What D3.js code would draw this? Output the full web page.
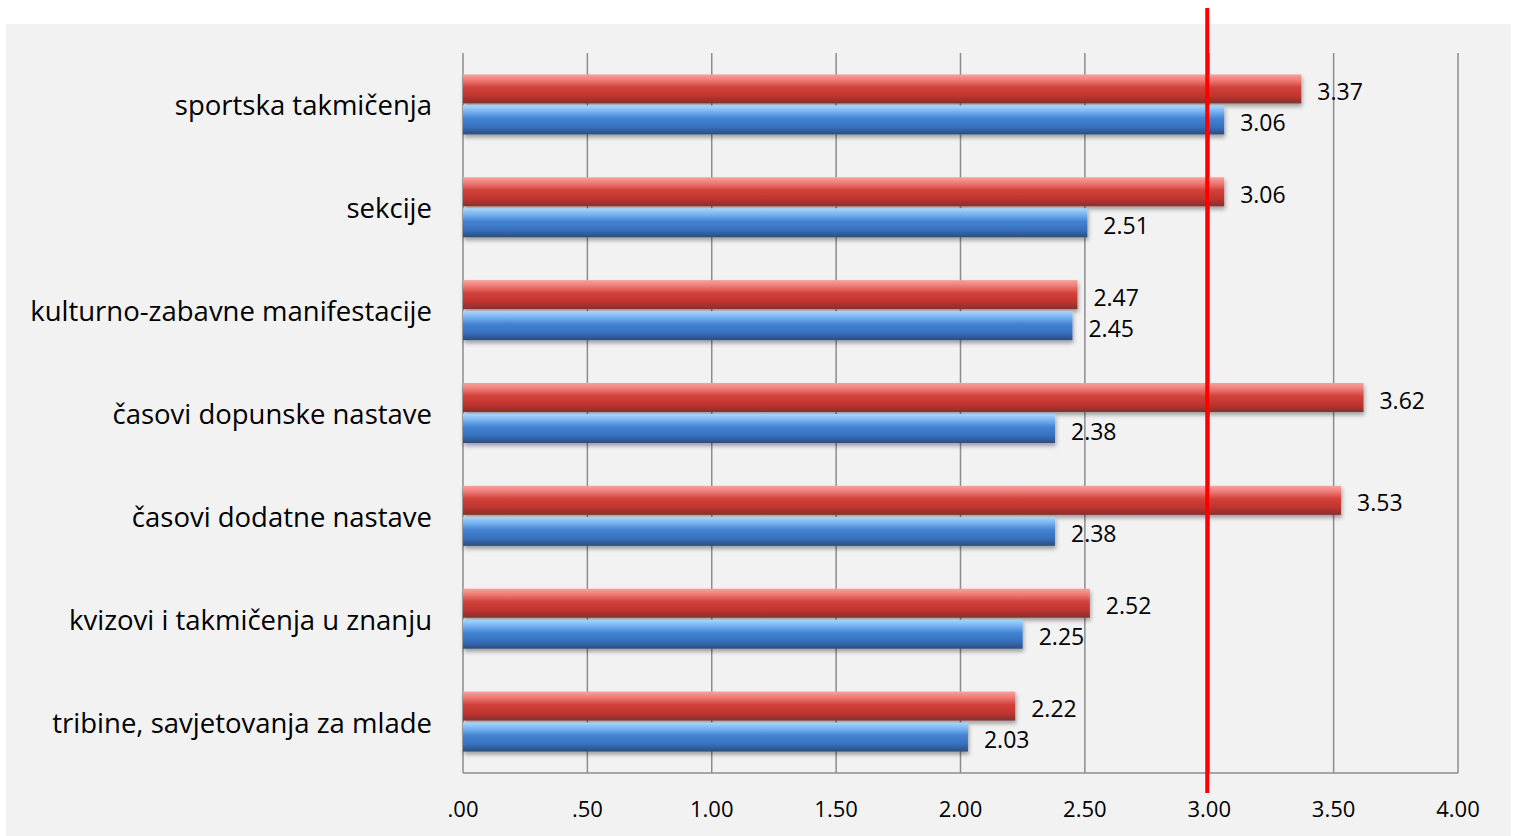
<!DOCTYPE html>
<html>
<head>
<meta charset="utf-8">
<script src="https://cdn.jsdelivr.net/npm/d3@7"></script>
<style>
  body { margin: 0; background: #fff; }
  text { font-family: "Open Sans", "Noto Sans", sans-serif; fill: #000; }
</style>
</head>
<body>
<div id="graph"></div>
<script>
  const categories = [
    "sportska takmičenja",
    "sekcije",
    "kulturno-zabavne manifestacije",
    "časovi dopunske nastave",
    "časovi dodatne nastave",
    "kvizovi i takmičenja u znanju",
    "tribine, savjetovanja za mlade"
  ];
  const red_values = [3.37, 3.06, 2.47, 3.62, 3.53, 2.52, 2.22];
  const blue_values = [3.06, 2.51, 2.45, 2.38, 2.38, 2.25, 2.03];
  const tick_values = [0, 0.5, 1, 1.5, 2, 2.5, 3, 3.5, 4];
  const reference_value = 3;

  const width = 1517;
  const height = 836;
  const margin = ({top: 53, right: 59, bottom: 63, left: 463});

  let svg = d3.select("#graph").append("svg")
    .attr("width", width)
    .attr("height", height);

  // gradients for the "cylinder" look
  let defs = svg.append("defs");
  function add_gradient(id, stops) {
    let g = defs.append("linearGradient")
      .attr("id", id)
      .attr("x1", 0).attr("y1", 0).attr("x2", 0).attr("y2", 1);
    stops.forEach(s => g.append("stop").attr("offset", s[0]).attr("stop-color", s[1]));
  }
  add_gradient("grad_red", [[0, "#f7a19d"], [0.2, "#ee7b76"], [0.45, "#d2413b"], [0.75, "#c0342f"], [1, "#82302c"]]);
  add_gradient("grad_blue", [[0, "#aad5fc"], [0.2, "#7ab4f2"], [0.45, "#4383d2"], [0.75, "#3670bd"], [1, "#2c4d7b"]]);
  defs.append("filter").attr("id", "shadow")
    .attr("x", -0.05).attr("y", -0.3).attr("width", 1.1).attr("height", 1.8)
    .append("feDropShadow")
    .attr("dx", 1).attr("dy", 3).attr("stdDeviation", 2)
    .attr("flood-color", "#000").attr("flood-opacity", 0.35);

  svg.append("rect")
    .attr("x", 6).attr("y", 24)
    .attr("width", 1505).attr("height", height - 24)
    .attr("fill", "#f2f2f2");

  let x = d3.scaleLinear()
    .domain([0, 4])
    .range([margin.left, width - margin.right]);
  let y = d3.scaleBand()
    .domain(categories)
    .range([margin.top, height - margin.bottom]);

  const bar_h = 29;
  const band_mid = d => y(d) + y.bandwidth() / 2;

  // grid lines
  svg.append("g")
    .selectAll("line")
    .data(tick_values)
    .enter()
    .append("line")
    .attr("x1", d => x(d)).attr("x2", d => x(d))
    .attr("y1", margin.top).attr("y2", height - margin.bottom)
    .attr("stroke", "#8c8c8c")
    .attr("stroke-width", 1.5);

  svg.append("line")
    .attr("x1", x(0)).attr("x2", x(4))
    .attr("y1", height - margin.bottom).attr("y2", height - margin.bottom)
    .attr("stroke", "#8c8c8c")
    .attr("stroke-width", 1.5);

  // x axis labels
  svg.append("g")
    .selectAll("text")
    .data(tick_values)
    .enter()
    .append("text")
    .attr("x", d => x(d))
    .attr("y", 817)
    .style("text-anchor", "middle")
    .style("font-size", "22px")
    .text(d => d3.format(".2f")(d).replace(/^0/, ""));

  // category labels
  svg.append("g")
    .selectAll("text")
    .data(categories)
    .enter()
    .append("text")
    .attr("x", 432)
    .attr("y", d => band_mid(d) + 11)
    .style("text-anchor", "end")
    .style("font-size", "27.5px")
    .text(d => d);

  const series = [
    {name: "red", values: red_values, fill: "url(#grad_red)", offset: -bar_h - 1},
    {name: "blue", values: blue_values, fill: "url(#grad_blue)", offset: 1}
  ];

  series.forEach(s => {
    let g = svg.append("g").attr("class", "series_" + s.name);
    g.selectAll("rect")
      .data(categories)
      .enter()
      .append("rect")
      .attr("x", x(0))
      .attr("y", d => band_mid(d) + s.offset)
      .attr("width", (d, i) => x(s.values[i]) - x(0))
      .attr("height", bar_h)
      .attr("fill", s.fill)
      .attr("filter", "url(#shadow)");
    g.selectAll("text")
      .data(categories)
      .enter()
      .append("text")
      .attr("x", (d, i) => x(s.values[i]) + 16)
      .attr("y", d => band_mid(d) + s.offset + bar_h / 2 + 11)
      .style("font-size", "23px")
      .text((d, i) => d3.format(".2f")(s.values[i]));
  });

  // reference line at 3.00
  svg.append("line")
    .attr("x1", x(reference_value) - 2).attr("x2", x(reference_value) - 2)
    .attr("y1", 8).attr("y2", 793)
    .attr("stroke", "#ff0000")
    .attr("stroke-width", 4);
</script>
</body>
</html>
